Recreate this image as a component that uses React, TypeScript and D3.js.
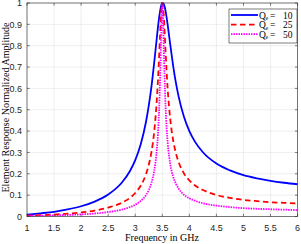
import React from "react";
import * as d3 from "d3";

const xTicks = [1, 1.5, 2, 2.5, 3, 3.5, 4, 4.5, 5, 5.5, 6];
const yTicks = [0, 0.1, 0.2, 0.3, 0.4, 0.5, 0.6, 0.7, 0.8, 0.9, 1];

const freq = [1, 1.25, 1.5, 1.75, 2, 2.25, 2.5, 2.75, 2.9, 3, 3.1, 3.2, 3.25, 3.3, 3.35, 3.4, 3.42, 3.44, 3.46, 3.48, 3.5, 3.52, 3.54, 3.56, 3.58, 3.6, 3.65, 3.7, 3.75, 3.8, 3.9, 4, 4.1, 4.25, 4.5, 4.75, 5, 5.25, 5.5, 5.75, 6];

const ampQ10 = [0.009, 0.015, 0.022, 0.033, 0.048, 0.07, 0.103, 0.158, 0.212, 0.264, 0.337, 0.445, 0.519, 0.61, 0.72, 0.84, 0.887, 0.929, 0.963, 0.988, 1.0, 0.999, 0.986, 0.963, 0.932, 0.896, 0.799, 0.707, 0.628, 0.564, 0.467, 0.4, 0.352, 0.301, 0.248, 0.216, 0.194, 0.179, 0.167, 0.158, 0.151];
const ampQ25 = [0.004, 0.006, 0.009, 0.013, 0.019, 0.028, 0.042, 0.064, 0.087, 0.11, 0.144, 0.199, 0.242, 0.303, 0.397, 0.552, 0.639, 0.743, 0.857, 0.956, 1.0, 0.967, 0.879, 0.775, 0.678, 0.595, 0.449, 0.358, 0.298, 0.256, 0.202, 0.169, 0.146, 0.124, 0.101, 0.087, 0.078, 0.072, 0.067, 0.064, 0.061];
const ampQ50 = [0.002, 0.003, 0.005, 0.007, 0.01, 0.014, 0.021, 0.032, 0.044, 0.055, 0.073, 0.101, 0.124, 0.158, 0.213, 0.317, 0.388, 0.492, 0.649, 0.863, 1.0, 0.874, 0.668, 0.516, 0.414, 0.344, 0.242, 0.187, 0.154, 0.131, 0.102, 0.085, 0.074, 0.062, 0.051, 0.044, 0.039, 0.036, 0.034, 0.032, 0.03];

const seriesLabels = ["10", "25", "50"];

const W = 301, H = 244;
const L = 27, R = 297.6, T = 3, B = 216.5;

export default function App() {
  const x = d3.scaleLinear().domain([1, 6]).range([L, R]);
  const y = d3.scaleLinear().domain([0, 1]).range([B, T]);
  const line = d3
    .line<[number, number]>()
    .x((d) => x(d[0]))
    .y((d) => y(d[1]))
    .curve(d3.curveMonotoneX);

  const series = [
    { a: ampQ10, color: "#0000ff", dash: undefined as string | undefined },
    { a: ampQ25, color: "#ff0000", dash: "5.5,3.5" },
    { a: ampQ50, color: "#ff00ff", dash: "1.5,1" },
  ];

  const axisColor = "#262626";
  const gridColor = "#e3e3e3";
  const tickLen = 2.7;
  const serif = "'Liberation Serif', 'Times New Roman', serif";
  const sans = "'Liberation Sans', Arial, sans-serif";

  return (
    <svg width={W} height={H} style={{ position: "absolute", left: 0, top: 0, background: "#fff" }}>
      <rect x={0} y={0} width={W} height={H} fill="#fff" />
      <defs>
        <clipPath id="clip">
          <rect x={L} y={T - 2} width={R - L} height={B - T + 2} />
        </clipPath>
      </defs>
      {xTicks.map((t) => (
        <line key={"gx" + t} x1={x(t)} x2={x(t)} y1={T} y2={B} stroke={gridColor} strokeWidth={0.6} />
      ))}
      {yTicks.map((t) => (
        <line key={"gy" + t} x1={L} x2={R} y1={y(t)} y2={y(t)} stroke={gridColor} strokeWidth={0.6} />
      ))}
      <g clipPath="url(#clip)">
        {series.map((s, i) => (
          <path
            key={i}
            d={line(freq.map((f, j) => [f, s.a[j]] as [number, number])) || ""}
            fill="none"
            stroke={s.color}
            strokeWidth={1.8}
            strokeDasharray={s.dash}
          />
        ))}
      </g>
      <rect x={L} y={T} width={R - L} height={B - T} fill="none" stroke={axisColor} strokeWidth={0.6} />
      {xTicks.map((t) => (
        <g key={"tx" + t}>
          <line x1={x(t)} x2={x(t)} y1={B} y2={B - tickLen} stroke={axisColor} strokeWidth={0.6} />
          <line x1={x(t)} x2={x(t)} y1={T} y2={T + tickLen} stroke={axisColor} strokeWidth={0.6} />
          <text x={x(t)} y={230.5} textAnchor="middle" fontFamily={sans} fontSize={9} fill={axisColor}>
            {String(t)}
          </text>
        </g>
      ))}
      {yTicks.map((t) => (
        <g key={"ty" + t}>
          <line x1={L} x2={L + tickLen} y1={y(t)} y2={y(t)} stroke={axisColor} strokeWidth={0.6} />
          <line x1={R} x2={R - tickLen} y1={y(t)} y2={y(t)} stroke={axisColor} strokeWidth={0.6} />
          <text x={22} y={y(t) + 3.2} textAnchor="end" fontFamily={sans} fontSize={9} fill={axisColor}>
            {String(t)}
          </text>
        </g>
      ))}
      <text x={162} y={241} textAnchor="middle" fontFamily={serif} fontSize={10} fill="#000">
        Frequency in GHz
      </text>
      <text
        transform={`translate(9,${107.5}) rotate(-90)`}
        textAnchor="middle"
        fontFamily={serif}
        fontSize={10.1}
        fill="#000"
      >
        Element Response Normalized Amplitude
      </text>
      <rect x={229} y={9} width={68} height={34} fill="#fff" stroke={axisColor} strokeWidth={0.6} />
      {series.map((s, i) => {
        const ry = 15 + i * 9.6;
        return (
          <g key={"lg" + i}>
            <line x1={231} x2={258} y1={ry} y2={ry} stroke={s.color} strokeWidth={1.8} strokeDasharray={s.dash} />
            <text x={259} y={ry + 3.5} fontFamily={serif} fontSize={9.5} fill="#000">
              Q
            </text>
            <text x={265.5} y={ry + 5} fontFamily={serif} fontSize={6} fill="#000">
              e
            </text>
            <text x={270} y={ry + 3.5} fontFamily={serif} fontSize={9.5} fill="#000">
              =
            </text>
            <text x={283} y={ry + 3.5} fontFamily={serif} fontSize={9.5} fill="#000">
              {seriesLabels[i]}
            </text>
          </g>
        );
      })}
    </svg>
  );
}
